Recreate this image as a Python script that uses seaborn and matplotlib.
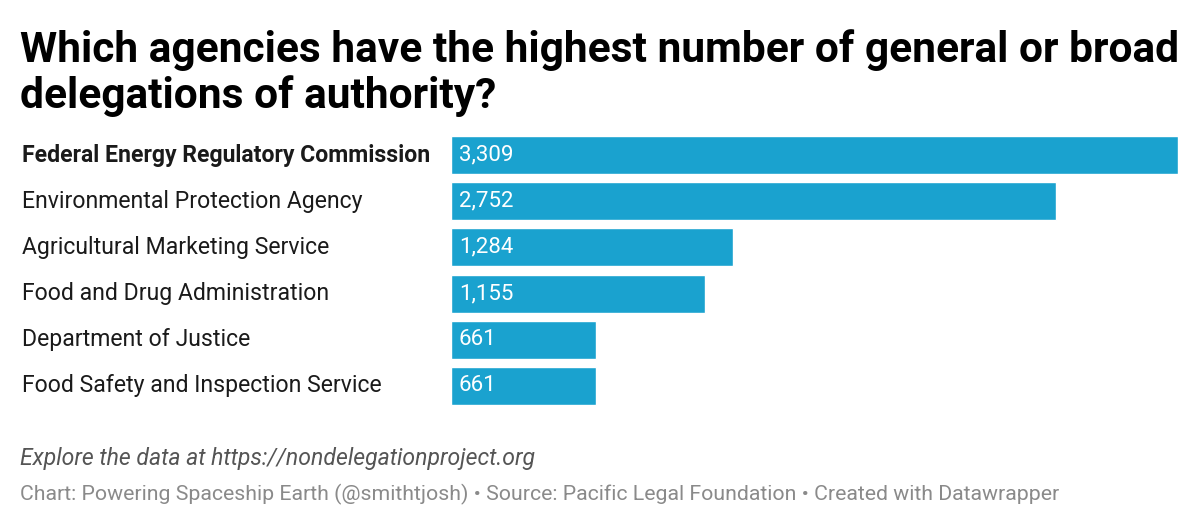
import matplotlib
matplotlib.use("Agg")
import matplotlib.pyplot as plt
import seaborn as sns
import pandas as pd

agencies = [
    "Federal Energy Regulatory Commission",
    "Environmental Protection Agency",
    "Agricultural Marketing Service",
    "Food and Drug Administration",
    "Department of Justice",
    "Food Safety and Inspection Service",
]
delegations = [3309, 2752, 1284, 1155, 661, 661]

title_lines = ["Which agencies have the highest number of general or broad",
               "delegations of authority?"]
note = "Explore the data at https://nondelegationproject.org"
credits = "Chart: Powering Spaceship Earth (@smithtjosh) • Source: Pacific Legal Foundation • Created with Datawrapper"

BAR = "#1aa2cf"
W, H = 1200, 526

sns.set_theme(style="white")
plt.rcParams["font.family"] = ["Roboto", "DejaVu Sans"]

fig = plt.figure(figsize=(W / 100, H / 100), dpi=100)
fig.patch.set_facecolor("white")

ax = fig.add_axes([451 / W, 1 - 409 / H, 727 / W, 277 / H])
df = pd.DataFrame({"agency": agencies, "count": delegations})
sns.barplot(data=df, x="count", y="agency", color=BAR, saturation=1,
            width=0.82, ax=ax, orient="h")
ax.set_xlim(0, max(delegations))
ax.set_ylim(len(agencies) - 0.5, -0.5)
ax.axis("off")

renderer = fig.canvas.get_renderer()

def fit(t, target):
    bb = t.get_window_extent(renderer=renderer)
    t.set_fontsize(t.get_fontsize() * target / bb.width)

for i, (name, v) in enumerate(zip(agencies, delegations)):
    ax.annotate(name, xy=(0, i), xycoords=("figure fraction", "data"),
                xytext=(22 / W, 0), textcoords=("figure fraction", "offset points"),
                ha="left", va="center", fontsize=16.6, color="#1a1a1a",
                fontweight="bold" if i == 0 else "normal")
    ax.text(8 * max(delegations) / 727, i, f"{v:,}", ha="left", va="center",
            fontsize=16, color="white")

t1 = fig.text(20 / W, 1 - 62 / H, title_lines[0], ha="left", va="baseline",
              fontsize=30, fontweight="bold", color="black")
fit(t1, 1157)
t2 = fig.text(20 / W, 1 - 108 / H, title_lines[1], ha="left", va="baseline",
              fontsize=t1.get_fontsize(), fontweight="bold", color="black")

n = fig.text(20 / W, 1 - 458 / H, note, ha="left", va="center",
             fontsize=14, style="italic", color="#555555")
fit(n, 517)
c = fig.text(20 / W, 1 - 494 / H, credits, ha="left", va="center",
             fontsize=13, color="#8a8a8a")
fit(c, 1040)

fig.savefig("out.png", dpi=100, facecolor="white")
